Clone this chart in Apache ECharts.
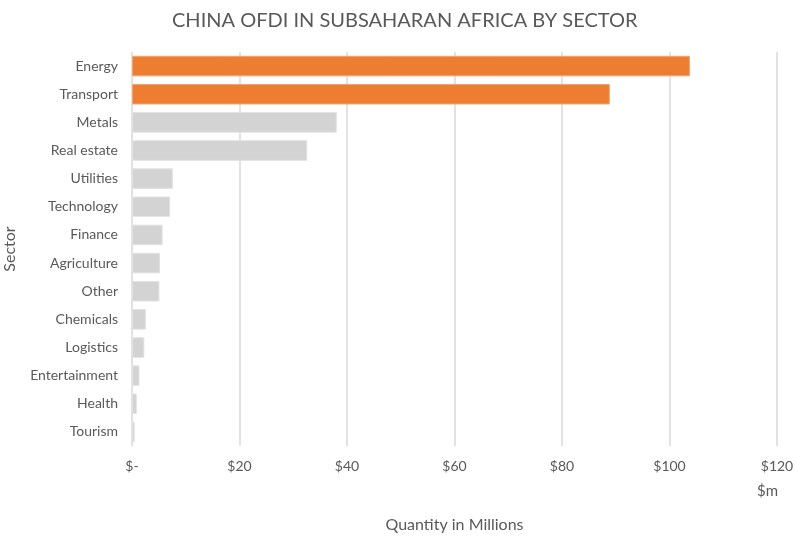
<!DOCTYPE html>
<html>
<head>
<meta charset="utf-8">
<script src="https://cdn.jsdelivr.net/npm/echarts@6/dist/echarts.min.js"></script>
<style>
  html, body { margin: 0; padding: 0; background: #fff; }
  #chart { width: 796px; height: 538px; }
</style>
</head>
<body>
<div id="chart"></div>
<script>
// sectors, top to bottom as in the picture
const sectors = ['Energy', 'Transport', 'Metals', 'Real estate', 'Utilities', 'Technology', 'Finance',
  'Agriculture', 'Other', 'Chemicals', 'Logistics', 'Entertainment', 'Health', 'Tourism']
// OFDI, $m
const values = [103.8, 88.9, 38.1, 32.6, 7.6, 7.1, 5.7, 5.2, 5.1, 2.6, 2.3, 1.4, 0.9, 0.5]
const highlighted = ['Energy', 'Transport']
const xTicks = [0, 20, 40, 60, 80, 100, 120]

const textColor = '#595959'
const font = 'Lato'

let chart = echarts.init(document.getElementById('chart'))
let option = {
  animation: false,
  title: {
    text: 'CHINA OFDI IN SUBSAHARAN AFRICA BY SECTOR',
    left: 167,
    top: 6,
    textStyle: { color: textColor, fontFamily: font, fontSize: 20, fontWeight: 'normal' }
  },
  grid: { left: 132, right: 19, top: 52, bottom: 92, outerBoundsMode: 'none' },
  xAxis: {
    type: 'value',
    min: xTicks[0],
    max: xTicks[xTicks.length - 1],
    interval: 20,
    name: 'Quantity in Millions',
    nameLocation: 'middle',
    nameGap: 71,
    nameTextStyle: { color: textColor, fontFamily: font, fontSize: 16 },
    axisLine: { show: false },
    axisTick: { show: false },
    axisLabel: {
      color: textColor, fontFamily: font, fontSize: 14, margin: 13,
      formatter: v => v === 0 ? '$-' : '$' + v
    },
    splitLine: { lineStyle: { color: '#d9d9d9', width: 1.5 } }
  },
  yAxis: {
    type: 'category',
    inverse: true,
    data: sectors,
    name: 'Sector',
    nameLocation: 'middle',
    nameRotate: 90,
    nameGap: 114,
    nameTextStyle: { color: textColor, fontFamily: font, fontSize: 16 },
    axisLine: { show: false },
    axisTick: { show: false },
    axisLabel: { color: textColor, fontFamily: font, fontSize: 14, margin: 14 }
  },
  series: [{
    type: 'bar',
    barCategoryGap: '27%',
    data: values.map((v, i) => ({
      value: v,
      itemStyle: {
        color: highlighted.includes(sectors[i]) ? '#ed7d31' : '#d3d3d3',
        borderColor: highlighted.includes(sectors[i]) ? '#f4a472' : '#e2e2e2',
        borderWidth: 1
      }
    }))
  }],
  graphic: [{
    type: 'text',
    left: 757,
    top: 484,
    style: { text: '$m', fill: textColor, font: '15px Lato' }
  }]
}
chart.setOption(option)
</script>
</body>
</html>
